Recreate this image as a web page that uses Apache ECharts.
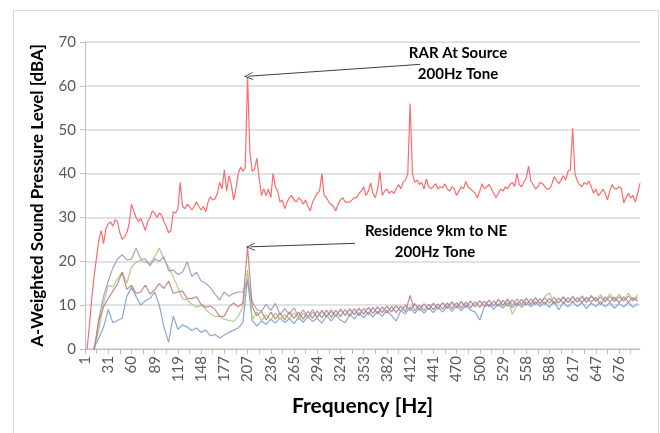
<!DOCTYPE html>
<html>
<head>
<meta charset="utf-8">
<script src="https://cdn.jsdelivr.net/npm/echarts@6/dist/echarts.min.js"></script>
<style>
  html, body { margin: 0; padding: 0; background: #fff; }
  #chart { width: 660px; height: 433px; }
</style>
</head>
<body>
<div id="chart"></div>
<script>
// x labels, one every 10 frequency bins
const tickLabels = ['1', '31', '60', '89', '119', '148', '177', '207', '236', '265', '294', '324',
  '353', '382', '412', '441', '470', '500', '529', '558', '588', '617', '647', '676'];

// RAR at source, one value per bin (dBA)
const sourceLevels = [
  -5, 0.5, 6, 12, 17, 21, 25, 27, 24, 27.5,
  28.5, 29, 28, 29.5, 29, 26.5, 25, 25.5, 26.5, 28.5,
  33, 31.5, 30, 29, 29.8, 28.5, 27, 29, 30, 31.5,
  31, 30, 31, 30.5, 29, 28, 26.5, 27, 31.3, 31,
  32, 38, 32.5, 32, 33, 32.5, 31.7, 32.5, 33.6, 32.5,
  31.7, 32.5, 31.3, 33.5, 34.7, 34, 34.2, 35.5, 38, 36.5,
  40.8, 36, 39.5, 37.5, 34, 36.5, 40, 41.5, 40.5, 41.5,
  62, 45, 40.5, 41, 43.5, 39, 35, 36.5, 35, 36.5,
  34.5, 40, 37, 36, 33.5, 34, 32, 33.5, 34.5, 35,
  34, 33.5, 34.5, 34, 33, 34, 32.5, 31.5, 33.5, 34.5,
  35.5, 36, 40, 35, 34.5, 33.5, 33, 32.5, 31.5, 33,
  34, 34.5, 33.5, 33.5, 33.5, 34, 34.5, 34.5, 35.5, 36,
  37, 35, 36, 37.8, 35.5, 34.5, 36.5, 40.4, 35, 36,
  36.5, 35.5, 36, 35.5, 36.5, 37.5, 36.5, 38, 38.5, 40,
  56, 40, 38, 38.5, 37.5, 38, 36.5, 38.8, 37, 36.5,
  37, 37.7, 36.5, 37, 36.7, 37.7, 36.5, 36, 37, 36.5,
  35, 36, 37, 36.5, 38.2, 37, 36.5, 36, 35.5, 34.5,
  36, 37.7, 36.5, 37, 37.5, 36.5, 35.5, 34.5, 35.5, 36.5,
  36, 37, 36.5, 37.5, 38, 37, 40, 37.5, 37, 38,
  39, 41.7, 38.3, 37.5, 36.5, 37, 38, 37.7, 37, 36.5,
  36.5, 37.5, 39.3, 38.5, 37.7, 38.5, 39.5, 38.5, 40.5, 40.8,
  50.3, 40, 38.3, 37.5, 37, 38, 37.5, 38.3, 37, 35.5,
  36.5, 35, 35.5, 36.5, 35.5, 34, 36, 37.5, 36.5, 36.5,
  37, 36.5, 33.3, 34.5, 35.5, 34.5, 35, 33.5, 35.5, 37.8
];

// residence measurements, read every 2nd bin
const residenceStep = 2;
const blueLevels = [
  -8, -4, 0.5, 2.5, 5, 9, 6, 6.5, 7, 12,
  14, 12, 10, 11, 11.5, 13, 10, 5, 1.5, 7.5,
  4.5, 5.5, 5, 4.2, 4.8, 3.8, 4.3, 3, 3.3, 2.5,
  3.2, 3.8, 4.3, 4.8, 6, 16, 6.5, 5.2, 6.4, 5.6,
  6.8, 5.9, 7.1, 6.0, 6.9, 5.8, 7.2, 6.1, 7.4, 6.3,
  7.0, 5.9, 7.6, 6.4, 7.8, 6.6, 6.0, 7.9, 6.8, 8.3,
  7.1, 8.4, 7.3, 8.6, 7.5, 8.8, 7.6, 6.4, 8.7, 8.0,
  9.6, 8.1, 9.3, 8.2, 9.4, 8.3, 9.6, 8.4, 9.8, 8.6,
  9.9, 8.7, 10.0, 8.9, 8.4, 6.6, 9.6, 10.2, 9.1, 10.3,
  9.3, 10.5, 9.4, 10.6, 9.5, 10.7, 9.6, 10.8, 9.7, 10.7,
  9.5, 10.9, 8.9, 10.6, 9.6, 10.8, 9.7, 10.6, 9.2, 10.5,
  9.7, 10.8, 9.6, 10.6, 9.3, 10.4, 9.6, 10.6, 9.5, 10.4
];
const redLevels = [
  -8, -5, 0, 6.5, 9.6, 11.5, 13.2, 14.8, 17.5, 13.6,
  14.5, 12.7, 13, 14.6, 12.5, 13.5, 14.9, 13.8, 15.5, 12.7,
  13, 13.2, 11.5, 11.5, 11.9, 10.2, 9.5, 9.8, 9, 7.4,
  7.5, 9.6, 10.5, 9.6, 10.5, 23.3, 9.6, 7.6, 8.6, 6.6,
  8.4, 6.8, 8.2, 6.6, 8.5, 6.9, 8.4, 6.8, 8.6, 7.0,
  8.7, 7.1, 8.9, 7.2, 8.8, 7.4, 9.0, 7.5, 9.2, 7.6,
  9.3, 7.9, 9.5, 8.0, 9.6, 8.2, 9.7, 8.3, 9.8, 8.5,
  12.2, 8.7, 10.0, 8.8, 10.2, 9.0, 10.3, 9.1, 10.5, 9.2,
  10.6, 9.3, 10.7, 9.4, 10.8, 9.5, 10.9, 9.6, 11.0, 9.7,
  11.1, 9.8, 11.2, 9.9, 11.3, 10.0, 11.4, 10.1, 11.5, 10.2,
  11.6, 10.3, 11.6, 10.4, 11.7, 10.5, 11.7, 10.6, 11.8, 10.7,
  11.8, 10.1, 11.9, 10.8, 11.8, 10.6, 11.9, 10.7, 11.7, 10.9
];
const greenLevels = [
  -8, -4, 0, 4.5, 10.4, 14.5, 14.2, 16, 17.5, 15,
  18.7, 19.8, 20.2, 19.8, 19.5, 21, 23, 20.5, 18.7, 16.5,
  14, 11.5, 11.2, 10.2, 9.5, 10, 9, 8, 7.4, 7.5,
  6.8, 6.5, 6.3, 7.4, 9.6, 18, 6.6, 8.5, 6.4, 7.8,
  6.6, 8.2, 6.8, 7.9, 6.9, 8.3, 6.7, 8.2, 7.0, 8.4,
  7.1, 8.6, 7.3, 8.5, 7.4, 8.9, 7.6, 9.0, 7.8, 9.2,
  7.9, 9.4, 8.1, 9.6, 8.3, 9.8, 8.4, 9.9, 8.6, 10.1,
  8.7, 10.2, 8.8, 10.3, 9.0, 10.5, 9.1, 10.6, 9.2, 10.8,
  9.3, 10.9, 9.4, 11.0, 9.6, 11.1, 9.7, 11.2, 9.8, 11.4,
  9.9, 11.5, 7.9, 10.0, 10.1, 11.6, 10.2, 11.8, 10.3, 11.9,
  12.8, 10.4, 10.5, 12.0, 10.6, 12.1, 10.7, 12.2, 10.8, 12.3,
  10.9, 12.4, 11.0, 12.6, 11.1, 12.5, 11.0, 12.7, 11.3, 12.4
];
const purpleLevels = [
  -8, -4, 0, 7, 12, 15.5, 18.5, 20.5, 21.5, 20.3,
  20.5, 23, 20.5, 20.5, 19, 20.5, 20, 21, 17.8, 18,
  17, 17.5, 19.9, 16.5, 17.5, 15.5, 15, 14, 12.5, 11.2,
  13, 12, 12.7, 13, 13, 15.5, 10.8, 9.0, 8.6, 10.2,
  8.8, 10.4, 7.8, 9.2, 7.9, 9.4, 7.4, 8.9, 7.3, 9.0,
  7.2, 8.8, 7.4, 8.9, 7.5, 9.1, 7.7, 9.2, 7.9, 9.3,
  8.0, 9.5, 8.1, 9.6, 8.3, 9.8, 8.5, 9.9, 8.6, 10.0,
  8.8, 10.4, 8.9, 10.3, 9.0, 10.4, 9.1, 10.6, 9.3, 10.7,
  9.4, 10.8, 9.5, 10.9, 9.6, 11.0, 9.7, 11.1, 9.8, 11.2,
  9.9, 11.3, 10.0, 11.4, 10.1, 11.5, 10.2, 11.6, 10.3, 11.7,
  10.4, 11.8, 10.5, 11.8, 10.6, 11.9, 10.7, 11.9, 10.6, 12.0,
  10.8, 11.9, 10.7, 12.0, 10.8, 11.9, 10.9, 12.0, 11.0, 11.8
];

const font = 'Lato';
const labelColor = '#595959';

// open chevron used as arrow head, tip at the top
const arrowHead = 'path://M5,0 L10,10 L8.8,10 L5,2.4 L1.2,10 L0,10 Z';

const toPoints = (values, step) => values.map((v, i) => [i * step, v]);

const lowerSeries = (name, values, color) => ({
  name,
  type: 'line',
  data: toPoints(values, residenceStep),
  showSymbol: false,
  lineStyle: { color, width: 1.2, opacity: 0.9 },
  emphasis: { disabled: true },
});

const arrow = (from, to) => [
  { coord: from, symbol: 'none' },
  { coord: to, symbol: arrowHead, symbolSize: [8, 9] },
];

const noteStyle = text => ({ text, font: `bold 15px ${font}`, fill: '#000', align: 'center', verticalAlign: 'middle' });

const chart = echarts.init(document.getElementById('chart'));
chart.setOption({
  animation: false,
  backgroundColor: '#fff',
  textStyle: { fontFamily: font },
  grid: { left: 85, right: 20, top: 42, bottom: 84 },
  xAxis: {
    type: 'value',
    min: 0,
    max: 239,
    interval: 5,
    name: 'Frequency [Hz]',
    nameLocation: 'middle',
    nameGap: 47,
    nameTextStyle: { fontSize: 21, fontWeight: 'bold', color: '#000', fontFamily: font },
    axisLine: { onZero: false, lineStyle: { color: '#bfbfbf' } },
    axisTick: { show: true, length: 5, lineStyle: { color: '#bfbfbf' } },
    axisLabel: {
      rotate: 90,
      margin: 7,
      fontSize: 15,
      color: labelColor,
      showMaxLabel: false,
      formatter: v => (v % 10 === 0 ? tickLabels[v / 10] : ''),
    },
    splitLine: { show: false },
  },
  yAxis: {
    type: 'value',
    min: 0,
    max: 70,
    interval: 10,
    name: 'A-Weighted Sound Pressure Level [dBA]',
    nameLocation: 'middle',
    nameGap: 39,
    nameTextStyle: { fontSize: 17, fontWeight: 'bold', color: '#000', fontFamily: font },
    axisLine: { show: true, lineStyle: { color: '#bfbfbf' } },
    axisTick: { show: true, length: 5, lineStyle: { color: '#bfbfbf' } },
    axisLabel: { fontSize: 15, color: labelColor, margin: 9 },
    splitLine: { lineStyle: { color: '#d9d9d9', width: 1.5 } },
  },
  series: [
    lowerSeries('Blue', blueLevels, '#7b9fd0'),
    lowerSeries('Green', greenLevels, '#a9c67f'),
    lowerSeries('Purple', purpleLevels, '#a192c2'),
    lowerSeries('Residence 9km to NE', redLevels, '#c27b78'),
    {
      name: 'RAR At Source',
      type: 'line',
      data: toPoints(sourceLevels, 1),
      showSymbol: false,
      lineStyle: { color: '#ff6b6b', width: 1.2 },
      emphasis: { disabled: true },
      markLine: {
        silent: true,
        label: { show: false },
        lineStyle: { color: '#404040', width: 1, type: 'solid' },
        data: [
          arrow([144.3, 64.9], [70.4, 62.2]),
          arrow([116.3, 24.1], [71.2, 23.3]),
        ],
      },
    },
  ],
  graphic: [
    // outer chart frame
    {
      type: 'rect',
      shape: { x: 13.5, y: 10.5, width: 645, height: 440 },
      style: { fill: 'none', stroke: '#d9d9d9', lineWidth: 1 },
      silent: true,
    },
    { type: 'text', x: 458, y: 53, style: noteStyle('RAR At Source') },
    { type: 'text', x: 458, y: 74, style: noteStyle('200Hz Tone') },
    { type: 'text', x: 436, y: 231, style: noteStyle('Residence 9km to NE') },
    { type: 'text', x: 435, y: 252, style: noteStyle('200Hz Tone') },
  ],
});
</script>
</body>
</html>
